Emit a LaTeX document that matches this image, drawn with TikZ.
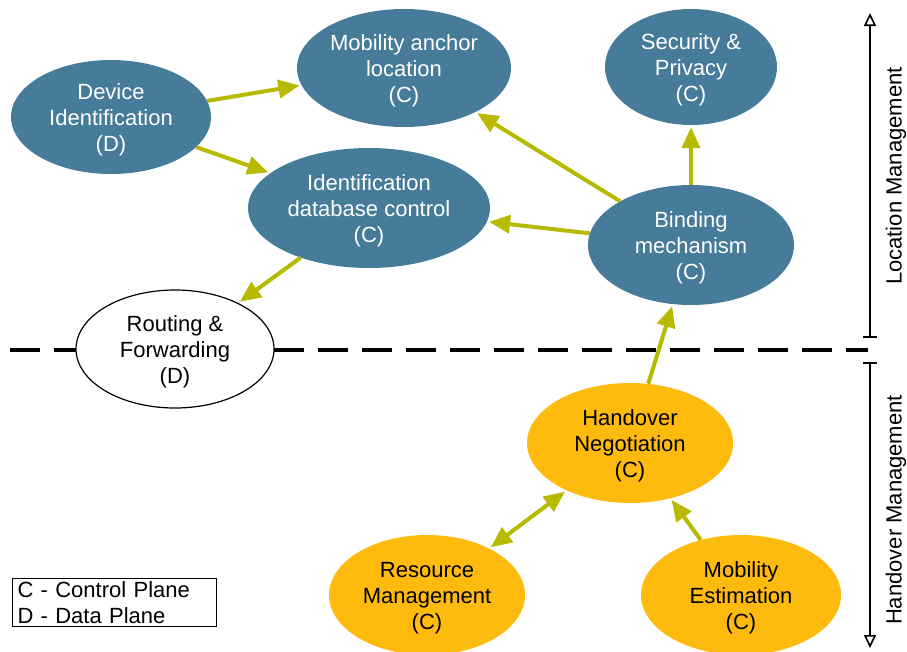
\documentclass[tikz,border=0pt]{standalone}
\usepackage{fontspec}
\setmainfont{Liberation Sans}
\usetikzlibrary{shapes.geometric,arrows.meta}
\definecolor{nodeblue}{RGB}{70,123,153}
\definecolor{nodeorange}{RGB}{255,187,13}
\definecolor{arrowolive}{RGB}{184,186,0}
% extra room above the first line, so the label sits a little low in its ellipse
\newcommand{\toppad}{\rule{0pt}{22pt}}
\begin{document}
\begin{tikzpicture}[x=1pt,y=-1pt,
  every node/.style={font=\fontsize{22}{26}\selectfont},
  bubble/.style={ellipse, inner sep=0pt, align=center},
  ctrl/.style={bubble, fill=nodeblue, text=white},
  hand/.style={bubble, fill=nodeorange, text=black},
  dataplane/.style={bubble, draw=black, line width=1.2pt, fill=white},
  link/.style={draw=arrowolive, line width=4pt,
    -{Triangle[length=21pt,width=18pt]}, shorten >=2pt},
  twoway/.style={draw=arrowolive, line width=4pt,
    {Triangle[length=21pt,width=18pt]}-{Triangle[length=21pt,width=18pt]},
    shorten >=2pt, shorten <=2pt},
  axis/.style={draw=black, line width=1.6pt},
  split/.style={draw=black, line width=3.5pt, dash pattern=on 30pt off 14pt}
]
\useasboundingbox (0,0) rectangle (907,651);
\clip (0,0) rectangle (907,651);

% plane divider
\coordinate (divL) at (10,350);
\coordinate (divR) at (868,350);
\draw[split] (divL) -- (divR);

% location management plane
\node[ctrl, minimum width=200pt, minimum height=114pt] (dev) at (111,117) {\toppad Device\\Identification\\(D)};
\node[ctrl, minimum width=214pt, minimum height=118pt] (anchor) at (404,68) {\toppad Mobility anchor\\location\\(C)};
\node[ctrl, minimum width=172pt, minimum height=116pt] (sec) at (691,67) {\toppad Security \&\\Privacy\\(C)};
\node[ctrl, minimum width=242pt, minimum height=120pt] (iddb) at (369,208) {\toppad Identification\\database control\\(C)};
\node[ctrl, minimum width=206pt, minimum height=120pt] (bind) at (691,245) {\toppad Binding\\mechanism\\(C)};
\node[dataplane, minimum width=198pt, minimum height=118pt] (route) at (175,349) {\toppad Routing \&\\Forwarding\\(D)};

% handover management plane
\node[hand, minimum width=206pt, minimum height=120pt] (hneg) at (630,443) {\toppad Handover\\Negotiation\\(C)};
\node[hand, minimum width=196pt, minimum height=120pt] (res) at (427,595) {\toppad Resource\\Management\\(C)};
\node[hand, minimum width=200pt, minimum height=120pt] (mest) at (741,595) {\toppad Mobility\\Estimation\\(C)};

% connectors
\draw[link] (dev) -- (anchor);
\draw[link] (dev) -- (iddb);
\draw[link] (iddb) -- (route);
\draw[link] (bind) -- (anchor);
\draw[link] (bind) -- (iddb);
\draw[link] (bind) -- (sec);
\draw[link] (hneg) -- (bind);
\draw[twoway] (res) -- (hneg);
\draw[link] (mest) -- (hneg);

% plane extents
\coordinate (locTop) at (870,13);
\coordinate (locBot) at (870,338);
\coordinate (hoTop) at (870,362);
\coordinate (hoBot) at (870,648);
\draw[axis, {Bar[width=14pt]}-{Triangle[open,length=13pt,width=12pt]}] (locBot) -- (locTop);
\draw[axis, {Bar[width=14pt]}-{Triangle[open,length=13pt,width=12pt]}] (hoTop) -- (hoBot);
\node[rotate=90] (loclabel) at (896,176) {Location Management};
\node[rotate=90] (holabel) at (896,510) {Handover Management};

% legend
\node[draw=black, line width=1pt, anchor=north west, align=left,
      text width=194pt, inner xsep=5pt, inner ysep=3pt] (legend) at (12,578)
  {C - Control Plane\\D - Data Plane};
\end{tikzpicture}
\end{document}
